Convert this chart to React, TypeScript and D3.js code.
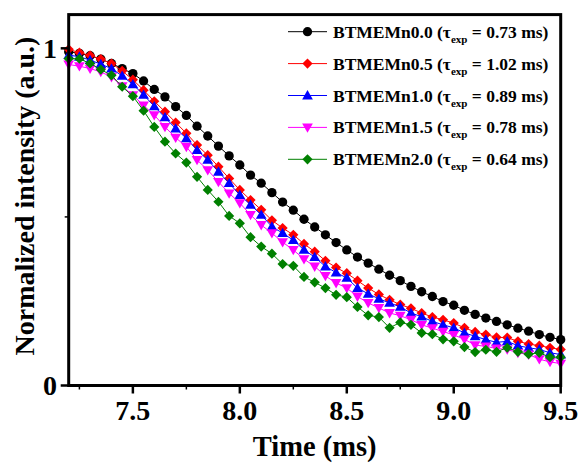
import React from "react";
import * as d3 from "d3";

const times = [7.2, 7.25, 7.3, 7.35, 7.4, 7.45, 7.5, 7.55, 7.6, 7.65, 7.7, 7.75, 7.8, 7.85, 7.9, 7.95, 8.0, 8.05, 8.1, 8.15, 8.2, 8.25, 8.3, 8.35, 8.4, 8.45, 8.5, 8.55, 8.6, 8.65, 8.7, 8.75, 8.8, 8.85, 8.9, 8.95, 9.0, 9.05, 9.1, 9.15, 9.2, 9.25, 9.3, 9.35, 9.4, 9.45, 9.5];

const mn00 = [0.990, 0.985, 0.978, 0.968, 0.955, 0.940, 0.925, 0.903, 0.878, 0.856, 0.827, 0.801, 0.769, 0.740, 0.710, 0.681, 0.654, 0.624, 0.600, 0.572, 0.544, 0.520, 0.493, 0.470, 0.447, 0.424, 0.402, 0.381, 0.363, 0.345, 0.327, 0.311, 0.294, 0.278, 0.264, 0.249, 0.238, 0.223, 0.211, 0.200, 0.190, 0.180, 0.170, 0.161, 0.151, 0.143, 0.136];
const mn05 = [0.997, 0.987, 0.979, 0.968, 0.955, 0.933, 0.907, 0.876, 0.843, 0.812, 0.780, 0.748, 0.713, 0.683, 0.649, 0.614, 0.580, 0.550, 0.521, 0.490, 0.467, 0.447, 0.420, 0.397, 0.370, 0.350, 0.333, 0.311, 0.289, 0.270, 0.254, 0.240, 0.229, 0.215, 0.203, 0.195, 0.185, 0.171, 0.159, 0.151, 0.143, 0.142, 0.131, 0.123, 0.118, 0.112, 0.107];
const mn10 = [0.980, 0.975, 0.965, 0.953, 0.940, 0.918, 0.893, 0.862, 0.828, 0.795, 0.762, 0.733, 0.698, 0.669, 0.634, 0.600, 0.565, 0.536, 0.506, 0.471, 0.452, 0.431, 0.402, 0.381, 0.353, 0.335, 0.319, 0.289, 0.272, 0.257, 0.245, 0.233, 0.215, 0.204, 0.190, 0.180, 0.171, 0.156, 0.146, 0.136, 0.128, 0.131, 0.118, 0.112, 0.107, 0.097, 0.092];
const mn15 = [0.952, 0.947, 0.940, 0.930, 0.915, 0.888, 0.861, 0.831, 0.802, 0.767, 0.735, 0.708, 0.669, 0.639, 0.604, 0.570, 0.541, 0.506, 0.476, 0.452, 0.425, 0.402, 0.375, 0.353, 0.325, 0.304, 0.289, 0.264, 0.245, 0.230, 0.215, 0.207, 0.195, 0.180, 0.170, 0.160, 0.150, 0.137, 0.120, 0.116, 0.110, 0.107, 0.097, 0.092, 0.078, 0.070, 0.065];
const mn20 = [0.969, 0.969, 0.955, 0.937, 0.920, 0.886, 0.858, 0.815, 0.767, 0.723, 0.688, 0.661, 0.619, 0.580, 0.545, 0.503, 0.481, 0.440, 0.412, 0.391, 0.360, 0.355, 0.322, 0.306, 0.289, 0.269, 0.262, 0.233, 0.208, 0.203, 0.171, 0.187, 0.180, 0.156, 0.152, 0.137, 0.131, 0.114, 0.099, 0.106, 0.100, 0.112, 0.100, 0.093, 0.097, 0.084, 0.084];

const seriesNames = ["BTMEMn0.0", "BTMEMn0.5", "BTMEMn1.0", "BTMEMn1.5", "BTMEMn2.0"];
const tauValues = ["0.73", "1.02", "0.89", "0.78", "0.64"];
const seriesColors = ["#000000", "#ff0000", "#0000ff", "#ff00ff", "#008000"];
const seriesShapes = ["circle", "diamond", "up", "down", "diamond"];
const seriesData = [mn00, mn05, mn10, mn15, mn20];

const xMajorTicks = [7.5, 8.0, 8.5, 9.0, 9.5];
const xMinorTicks = [7.25, 7.75, 8.25, 8.75, 9.25];
const yMajorTicks = [0, 1];
const yMinorTicks = [0.5];

const W = 581;
const H = 464;
const L = 68.7, R = 560.7, T = 14.6, B = 385.5;
const FONT = "'Liberation Serif', 'Times New Roman', serif";

const x = d3.scaleLinear().domain([7.2, 9.5]).range([L, R]);
const y = d3.scaleLinear().domain([0, 1.1]).range([B, T]);

const circlePath = d3.symbol(d3.symbolCircle, 68)()!;
const squarePath = d3.symbol(d3.symbolSquare, 52)()!;
const triPath = d3.symbol(d3.symbolTriangle, 50)()!;

function Marker({ shape, cx, cy, color }: { shape: string; cx: number; cy: number; color: string }) {
  if (shape === "circle") return <path d={circlePath} transform={`translate(${cx},${cy})`} fill={color} />;
  if (shape === "diamond") return <path d={squarePath} transform={`translate(${cx},${cy}) rotate(45)`} fill={color} />;
  if (shape === "up") return <path d={triPath} transform={`translate(${cx},${cy + 0.8})`} fill={color} />;
  return <path d={triPath} transform={`translate(${cx},${cy - 0.8}) rotate(180)`} fill={color} />;
}

export default function App() {
  const line = d3.line<number>().x((_, i) => x(times[i])).y((d) => y(d));
  const legendX0 = 288, legendX1 = 327, legendTextX = 333;
  const legendY = d3.scalePoint<number>().domain([0, 1, 2, 3, 4]).range([31.7, 159.3]);

  return (
    <svg width={W} height={H} style={{ position: "absolute", left: 0, top: 0, background: "#fff", fontFamily: FONT }}>
      <rect x={0} y={0} width={W} height={H} fill="#fff" />
      {seriesData.map((data, si) => (
        <g key={si}>
          <path d={line(data) || ""} fill="none" stroke={seriesColors[si]} strokeWidth={1} />
          {data.map((v, i) => (
            <Marker key={i} shape={seriesShapes[si]} cx={x(times[i])} cy={y(v)} color={seriesColors[si]} />
          ))}
        </g>
      ))}
      <rect x={L} y={T} width={R - L} height={B - T} fill="none" stroke="#000" strokeWidth={3} />
      {xMajorTicks.map((t) => (
        <g key={t}>
          <line x1={x(t)} x2={x(t)} y1={B} y2={B + 8} stroke="#000" strokeWidth={2.5} />
          <text x={x(t)} y={420} textAnchor="middle" fontSize={28} fontWeight="bold">{t.toFixed(1)}</text>
        </g>
      ))}
      {xMinorTicks.map((t) => (
        <line key={t} x1={x(t)} x2={x(t)} y1={B} y2={B + 4} stroke="#000" strokeWidth={1.5} />
      ))}
      {yMajorTicks.map((t) => (
        <g key={t}>
          <line x1={L - 8} x2={L} y1={y(t)} y2={y(t)} stroke="#000" strokeWidth={2.5} />
          <text x={57} y={y(t) + 9.5} textAnchor="end" fontSize={28} fontWeight="bold">{t}</text>
        </g>
      ))}
      {yMinorTicks.map((t) => (
        <line key={t} x1={L - 4} x2={L} y1={y(t)} y2={y(t)} stroke="#000" strokeWidth={1.5} />
      ))}
      <text x={(L + R) / 2} y={456} textAnchor="middle" fontSize={28.5} fontWeight="bold">Time (ms)</text>
      <text transform={`translate(34,196) rotate(-90)`} textAnchor="middle" fontSize={28} fontWeight="bold">
        Normalized intensity (a.u.)
      </text>
      {seriesNames.map((name, i) => {
        const cy = legendY(i)!;
        return (
          <g key={name}>
            <line x1={legendX0} x2={legendX1} y1={cy} y2={cy} stroke={seriesColors[i]} strokeWidth={1} />
            <Marker shape={seriesShapes[i]} cx={(legendX0 + legendX1) / 2} cy={cy} color={seriesColors[i]} />
            <text x={legendTextX} y={cy + 6} fontSize={17.5} fontWeight="bold">
              {name} (τ
              <tspan fontSize={11} dy={5}>exp</tspan>
              <tspan dy={-5}>{` = ${tauValues[i]} ms)`}</tspan>
            </text>
          </g>
        );
      })}
    </svg>
  );
}
